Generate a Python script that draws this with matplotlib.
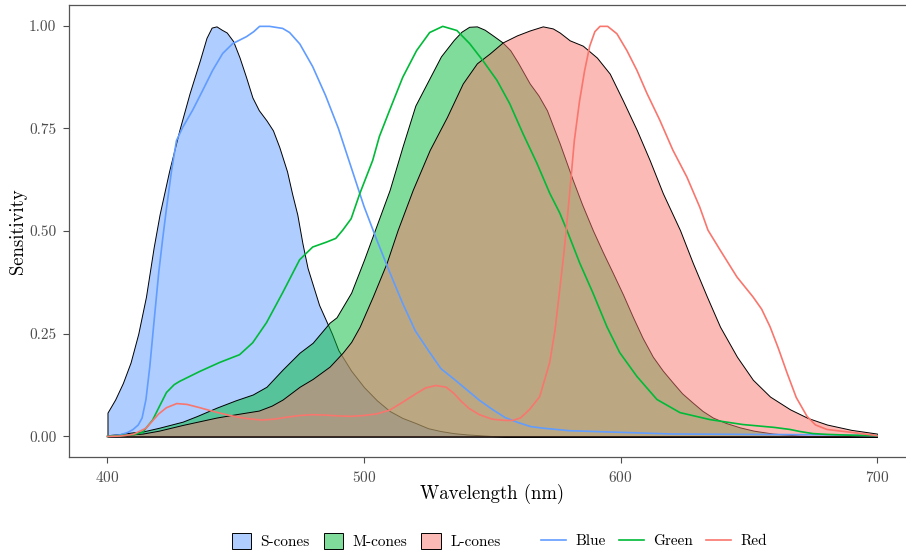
import numpy as np
import matplotlib
matplotlib.use("Agg")
import matplotlib.pyplot as plt
from matplotlib.patches import Patch
from matplotlib.lines import Line2D
from matplotlib.ticker import FormatStrFormatter

plt.rcParams['font.family'] = 'serif'
plt.rcParams['font.serif'] = ['cmr10']
plt.rcParams['axes.formatter.use_mathtext'] = True

# cone sensitivities (filled areas), wavelength in nm
s_wl = [400, 403, 406, 409, 412, 415, 418, 420.3, 424, 428, 432, 436, 438.6, 440.6,
        442.5, 444.5, 446.5, 449, 451.5, 454, 456.5, 459, 462, 464.5, 467, 470, 472,
        474, 476, 478, 480, 482.5, 485, 487.5, 490, 495, 500, 505, 510, 515, 520,
        525, 530, 535, 540, 545, 550, 555, 700]
s_cones = [0.058, 0.09, 0.13, 0.18, 0.25, 0.34, 0.46, 0.54, 0.645, 0.745, 0.835, 0.915,
           0.97, 0.995, 0.998, 0.99, 0.983, 0.962, 0.922, 0.875, 0.825, 0.794, 0.769,
           0.745, 0.704, 0.645, 0.59, 0.54, 0.47, 0.41, 0.37, 0.32, 0.285, 0.25, 0.21,
           0.16, 0.12, 0.088, 0.062, 0.045, 0.033, 0.02, 0.013, 0.008, 0.005, 0.003,
           0.001, 0, 0]

m_wl = [400, 405, 410, 413.7, 420, 429.3, 435, 442.5, 450, 456.6, 462, 468.3, 474.9,
        480, 486.6, 489.3, 495, 500, 505, 510, 515, 520, 525, 530, 535, 538, 541, 544,
        547, 550, 554, 557, 560, 564.6, 568, 571.3, 576.3, 581.4, 585, 589.2, 593, 597,
        601, 604.8, 608.6, 612.6, 616.5, 620.4, 624, 628.2, 632, 636, 641, 646.6, 652,
        659.4, 670, 680, 700]
m_cones = [0.003, 0.006, 0.01, 0.012, 0.021, 0.036, 0.05, 0.07, 0.088, 0.102, 0.121,
           0.163, 0.204, 0.228, 0.277, 0.29, 0.35, 0.43, 0.515, 0.60, 0.705, 0.805,
           0.865, 0.925, 0.965, 0.985, 0.997, 0.998, 0.99, 0.977, 0.959, 0.94, 0.91,
           0.859, 0.83, 0.794, 0.713, 0.624, 0.565, 0.502, 0.45, 0.398, 0.345, 0.291,
           0.24, 0.194, 0.16, 0.131, 0.105, 0.082, 0.062, 0.046, 0.033, 0.022, 0.014,
           0.007, 0.002, 0, 0]

l_wl = [400, 405, 413.7, 420, 429.3, 442.5, 450, 459, 464, 468.3, 474.9, 480, 486.6,
        491.7, 495, 498.3, 503.4, 508.8, 513.1, 519, 525.6, 532.3, 538.5, 544, 549,
        554.1, 559.6, 564.6, 569.7, 573.6, 576.3, 580.2, 585.3, 590.8, 595.8, 600.9,
        606.4, 611.4, 616.5, 623.2, 628.2, 633.7, 638.8, 645.4, 651.6, 658.3, 666.1,
        673, 680.5, 690, 700]
l_cones = [0, 0.003, 0.007, 0.014, 0.028, 0.046, 0.054, 0.063, 0.075, 0.09, 0.121,
           0.14, 0.17, 0.204, 0.23, 0.267, 0.34, 0.422, 0.502, 0.60, 0.697, 0.777,
           0.859, 0.908, 0.932, 0.959, 0.976, 0.988, 0.998, 0.993, 0.983, 0.964, 0.951,
           0.922, 0.883, 0.818, 0.745, 0.672, 0.592, 0.502, 0.422, 0.34, 0.267, 0.194,
           0.138, 0.097, 0.066, 0.045, 0.029, 0.016, 0.007]

# primaries (lines)
blue_wl = [400, 405, 408, 410, 412, 413.5, 415, 416.5, 418, 420, 421.5, 423, 425, 426.9,
           429.3, 433.2, 437.1, 441, 444.9, 448.8, 454.2, 457, 459.3, 463.2, 468.3, 471,
           475, 480, 485, 490, 495, 500, 505, 510, 515, 520, 525, 530, 535, 540, 545,
           550, 555, 560, 565, 570, 580, 590, 600, 620, 650, 680, 700]
blue = [0, 0.004, 0.01, 0.017, 0.028, 0.045, 0.09, 0.17, 0.27, 0.40, 0.48, 0.555, 0.648,
        0.72, 0.752, 0.794, 0.842, 0.891, 0.932, 0.956, 0.973, 0.985, 0.998, 0.998, 0.993,
        0.983, 0.955, 0.90, 0.83, 0.75, 0.655, 0.56, 0.478, 0.40, 0.325, 0.257, 0.21,
        0.165, 0.14, 0.114, 0.088, 0.066, 0.046, 0.034, 0.024, 0.02, 0.014, 0.012, 0.01,
        0.006, 0.005, 0.004, 0.002]

green_wl = [400, 410, 413.7, 417.6, 420, 423, 426, 428.1, 435.9, 443.7, 451.5, 456.6, 462,
            468.3, 474.9, 480, 485.4, 489, 491.7, 495, 498.3, 503.4, 506, 510, 515.1,
            520.5, 525.6, 530.7, 536.2, 541.2, 546.3, 551.8, 556.8, 561.9, 567.4, 572.4,
            576.3, 579.1, 584.1, 589.2, 594.7, 599.7, 606.4, 614.2, 623.2, 634.9, 647.7,
            660, 666.1, 670, 675, 680.5, 690, 700]
green = [0, 0.004, 0.01, 0.04, 0.07, 0.107, 0.126, 0.134, 0.158, 0.18, 0.199, 0.228,
         0.277, 0.35, 0.43, 0.461, 0.473, 0.482, 0.502, 0.53, 0.59, 0.672, 0.73, 0.794,
         0.874, 0.939, 0.983, 0.998, 0.988, 0.956, 0.915, 0.867, 0.81, 0.738, 0.665,
         0.592, 0.544, 0.502, 0.422, 0.35, 0.267, 0.204, 0.146, 0.09, 0.058, 0.041,
         0.029, 0.022, 0.017, 0.012, 0.007, 0.005, 0.003, 0.002]

red_wl = [400, 405, 410, 415, 420, 423, 427, 431, 436, 440, 445, 450, 455, 460, 465, 470,
          475, 480, 485, 490, 495, 500, 505, 510, 515, 520, 524, 528, 532, 535, 538, 541,
          545, 550, 555, 558, 561, 564.6, 568.5, 572.4, 574.5, 576.3, 578, 580, 582, 584,
          586, 588, 590, 592, 595, 598.6, 602.5, 606.4, 610.3, 615.3, 620.4, 625.9, 630.9,
          634.1, 638.8, 645.4, 651.6, 655, 658.3, 661.5, 664.9, 668.5, 672.7, 676, 680.5,
          690, 700]
red = [0, 0.001, 0.005, 0.02, 0.055, 0.07, 0.08, 0.078, 0.07, 0.063, 0.055, 0.048, 0.043,
       0.04, 0.042, 0.047, 0.051, 0.053, 0.052, 0.05, 0.049, 0.051, 0.055, 0.064, 0.083,
       0.103, 0.118, 0.124, 0.12, 0.105, 0.085, 0.068, 0.053, 0.042, 0.039, 0.039, 0.045,
       0.066, 0.097, 0.18, 0.26, 0.357, 0.45, 0.58, 0.72, 0.815, 0.89, 0.95, 0.985, 0.998,
       0.998, 0.98, 0.939, 0.891, 0.835, 0.77, 0.697, 0.631, 0.558, 0.502, 0.454, 0.388,
       0.34, 0.31, 0.267, 0.215, 0.155, 0.095, 0.049, 0.028, 0.017, 0.01, 0.002]

fill_colors = {'S-cones': '#619CFF', 'M-cones': '#00BA38', 'L-cones': '#F8766D'}
line_colors = {'Blue': '#619CFF', 'Green': '#00BA38', 'Red': '#F8766D'}

fig = plt.figure(figsize=(9.06, 5.52), dpi=100)
ax = fig.add_axes([69 / 906, 1 - 457 / 552, (915.5 - 69) / 906, 452 / 552])

for name, x, vals in [('S-cones', s_wl, s_cones), ('M-cones', m_wl, m_cones),
                      ('L-cones', l_wl, l_cones)]:
    fc = matplotlib.colors.to_rgba(fill_colors[name], 0.5)
    ax.fill_between(x, 0, vals, facecolor=fc, edgecolor='black', linewidth=0.7)

for name, x, vals in [('Blue', blue_wl, blue), ('Green', green_wl, green),
                      ('Red', red_wl, red)]:
    ax.plot(x, vals, color=line_colors[name], linewidth=1.2)

ax.set_xlim(385, 715)
ax.set_ylim(-0.05, 1.05)
ax.set_xticks([400, 500, 600, 700])
ax.set_yticks([0, 0.25, 0.5, 0.75, 1.0])
ax.yaxis.set_major_formatter(FormatStrFormatter('%.2f'))
ax.tick_params(colors='#4D4D4D', labelsize=11, length=4, width=0.8, pad=5)
for side in ['left', 'bottom', 'top']:
    ax.spines[side].set_color('#555555')
    ax.spines[side].set_linewidth(0.9)
ax.spines['right'].set_visible(False)

ax.set_xlabel('Wavelength (nm)', fontsize=13.5, labelpad=-0.5)
ax.set_ylabel('Sensitivity', fontsize=13.5, labelpad=1.5)

fill_handles = [Patch(facecolor=matplotlib.colors.to_rgba(c, 0.5), edgecolor='black',
                      linewidth=0.7, label=n) for n, c in fill_colors.items()]
line_handles = [Line2D([], [], color=c, linewidth=1.2, label=n)
                for n, c in line_colors.items()]

leg_kw = dict(loc='center', ncol=3, frameon=False, fontsize=11, borderpad=0,
              handletextpad=0.6, columnspacing=0.9)
fig.legend(handles=fill_handles, bbox_to_anchor=(366 / 906, 1 - 541 / 552),
           handlelength=1.3, handleheight=1.3, **leg_kw)
fig.legend(handles=line_handles, bbox_to_anchor=(654 / 906, 1 - 541 / 552),
           handlelength=1.6, **leg_kw)

fig.savefig('out.png', dpi=100)
